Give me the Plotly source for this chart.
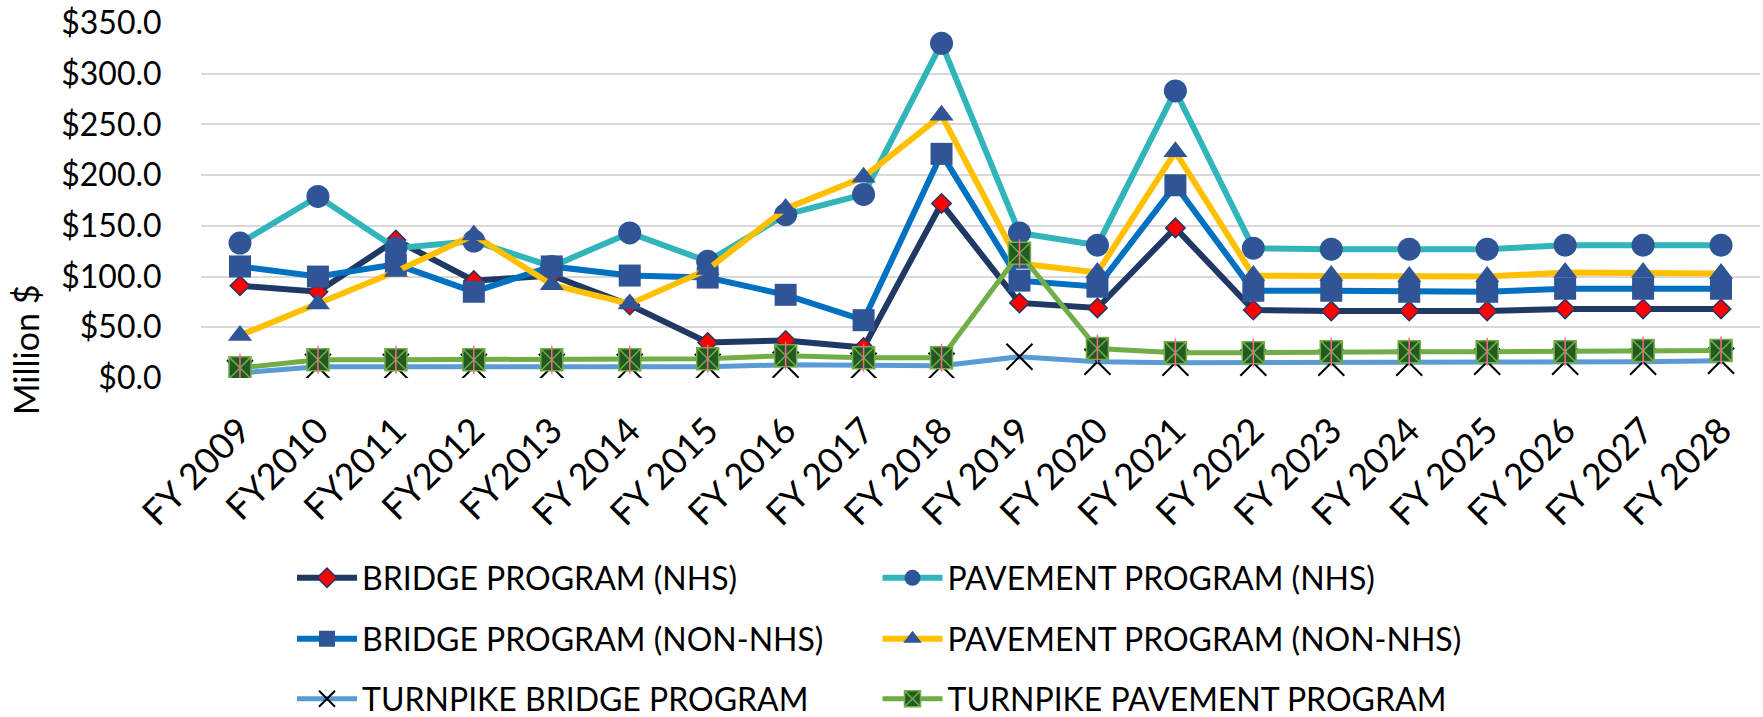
import plotly.graph_objects as go

categories = ["FY 2009", "FY2010", "FY2011", "FY2012", "FY2013", "FY 2014", "FY 2015",
              "FY 2016", "FY 2017", "FY 2018", "FY 2019", "FY 2020", "FY 2021", "FY 2022",
              "FY 2023", "FY 2024", "FY 2025", "FY 2026", "FY 2027", "FY 2028"]

bridge_nhs = [91, 85, 136, 96, 101, 72, 35, 37, 30, 172, 74, 69, 148, 67, 66, 66, 66, 68, 68, 68]
pavement_nhs = [133, 179, 128, 135, 110, 143, 115, 161, 181, 330, 143, 131, 283, 128, 127, 127, 127, 131, 131, 131]
bridge_non_nhs = [110, 100, 112, 85, 110, 101, 99, 82, 57, 221, 96, 90, 190, 86, 86, 85, 85, 88, 88, 88]
pavement_non_nhs = [42, 73, 105, 141, 92, 73, 107, 167, 198, 259, 113, 104, 223, 101, 101, 100, 100, 104, 104, 103]
turnpike_bridge = [5, 11, 11, 11, 11, 11, 11, 13, 12, 12, 21, 16, 15, 15, 15, 15, 16, 16, 16, 17]
turnpike_pavement = [10, 18, 18, 18, 18, 18, 19, 22, 20, 20, 123, 29, 25, 25, 26, 26, 26, 26, 27, 27]

FONT = "Lato"
FS = 32
W, H = 1763, 717
L, R, T, B = 201, 3, 23, 339
PW = W - L - R
PH = H - T - B

def px_x(px):
    return (px - L) / PW

def px_y(py):
    return (H - B - py) / PH

fig = go.Figure()

series = [
    dict(name="BRIDGE PROGRAM (NHS)", y=bridge_nhs, lc="#203864", lw=6,
         m=dict(symbol="diamond", size=15, color="#FF0000", line=dict(color="#203864", width=1.5)), lg="legend"),
    dict(name="PAVEMENT PROGRAM (NHS)", y=pavement_nhs, lc="#31B5BA", lw=6,
         m=dict(symbol="circle", size=23, color="#2F5597", line=dict(width=0)), lg="legend2"),
    dict(name="BRIDGE PROGRAM (NON-NHS)", y=bridge_non_nhs, lc="#0070C0", lw=6,
         m=dict(symbol="square", size=22, color="#2F5597", line=dict(width=0)), lg="legend3"),
    dict(name="PAVEMENT PROGRAM (NON-NHS)", y=pavement_non_nhs, lc="#FFC000", lw=6,
         m=dict(symbol="triangle-up", size=21, color="#2F5597", line=dict(width=0)), lg="legend4"),
    dict(name="TURNPIKE BRIDGE PROGRAM", y=turnpike_bridge, lc="#5B9BD5", lw=5,
         m=dict(symbol="x-thin-open", size=26, color="#000000", line=dict(color="#000000", width=2)), lg="legend5"),
    dict(name="TURNPIKE PAVEMENT PROGRAM", y=turnpike_pavement, lc="#70AD47", lw=5,
         m=dict(symbol="square-x", size=22, color="#235A23", line=dict(color="#70AD47", width=1.5)), lg="legend6"),
]

for s in series:
    fig.add_trace(go.Scatter(
        x=categories, y=s["y"], name=s["name"], mode="lines+markers",
        line=dict(color=s["lc"], width=s["lw"]), marker=s["m"], legend=s["lg"],
    ))

# vertical stroke of the turnpike pavement "star" marker
fig.add_trace(go.Scatter(
    x=categories, y=turnpike_pavement, mode="markers", showlegend=False,
    marker=dict(symbol="line-ns-open", size=20, line=dict(color="#70AD47", width=1.5)),
))

row_y = [578, 639, 699]
col_x = [292, 877.5]
legend_pos = {
    "legend": (col_x[0], row_y[0]), "legend2": (col_x[1], row_y[0]),
    "legend3": (col_x[0], row_y[1]), "legend4": (col_x[1], row_y[1]),
    "legend5": (col_x[0], row_y[2]), "legend6": (col_x[1], row_y[2]),
}
legend_layout = {}
for k, (lx, ly) in legend_pos.items():
    legend_layout[k] = dict(
        x=px_x(lx), y=px_y(ly), xanchor="left", yanchor="middle",
        font=dict(family=FONT, size=FS, color="#000000"),
        bgcolor="rgba(0,0,0,0)", borderwidth=0, itemwidth=60,
        itemclick=False, itemdoubleclick=False,
    )

fig.update_layout(
    width=W, height=H,
    margin=dict(l=L, r=R, t=T, b=B, autoexpand=False),
    paper_bgcolor="white", plot_bgcolor="white",
    font=dict(family=FONT, size=FS, color="#000000"),
    showlegend=True,
    xaxis=dict(
        type="category", range=[-0.5, len(categories) - 0.5],
        tickangle=-45, tickfont=dict(family=FONT, size=36, color="#000000"),
        ticks="outside", ticklen=16, tickcolor="rgba(0,0,0,0)",
        showgrid=False, zeroline=False, showline=False, automargin=False,
    ),
    yaxis=dict(
        range=[0, 350], dtick=50, tick0=0, tickprefix="$", tickformat=".1f",
        tickfont=dict(family=FONT, size=FS, color="#000000"),
        ticks="outside", ticklen=32, tickcolor="rgba(0,0,0,0)",
        showgrid=True, gridcolor="#D9D9D9", gridwidth=2,
        zeroline=False, showline=False, automargin=False,
    ),
    annotations=[dict(
        text="Million $", textangle=-90, showarrow=False,
        xref="paper", yref="paper", x=px_x(25), y=px_y(350),
        xanchor="center", yanchor="middle",
        font=dict(family=FONT, size=34, color="#000000"),
    )],
    **legend_layout,
)

fig.write_html(
    "out.html",
    config={"displayModeBar": False},
    post_script="document.body.style.margin='0';document.body.style.padding='0';",
)
